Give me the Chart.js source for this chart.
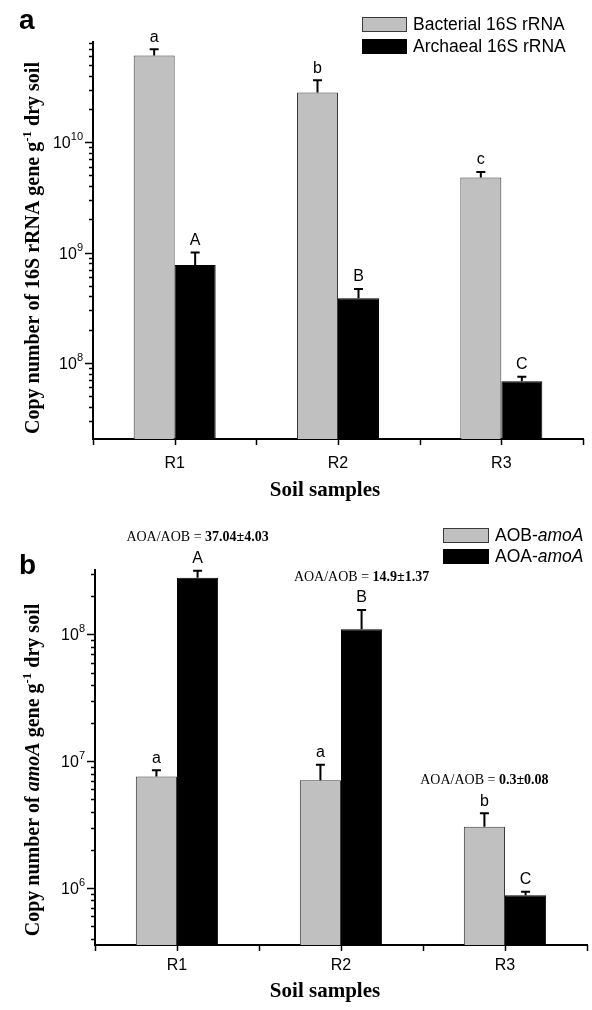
<!DOCTYPE html>
<html>
<head>
<meta charset="utf-8">
<script src="https://cdn.jsdelivr.net/npm/chart.js@4.4.0/dist/chart.umd.min.js"></script>
<style>
  html, body { margin: 0; padding: 0; background: #fff; }
  .panel { position: absolute; left: 0; width: 592px; height: 505px; }
  #wrapA { top: 0; }
  #wrapB { top: 505px; }
</style>
</head>
<body>
<div class="panel" id="wrapA"><canvas id="chartA" width="592" height="505"></canvas></div>
<div class="panel" id="wrapB"><canvas id="chartB" width="592" height="505"></canvas></div>
<script>
// soil samples
const samples = ['R1', 'R2', 'R3'];

// panel a: 16S rRNA gene copies per g dry soil
const bacterial = [6.1e10, 2.83e10, 4.78e9];
const bacterialSd = [0.87e10, 0.81e10, 0.59e9];
const bacterialLetters = ['a', 'b', 'c'];
const archaeal = [7.7e8, 3.85e8, 6.8e7];
const archaealSd = [2.3e8, 0.82e8, 0.7e7];
const archaealLetters = ['A', 'B', 'C'];

// panel b: amoA gene copies per g dry soil
const aob = [7.6e6, 7.1e6, 3.04e6];
const aobSd = [0.9e6, 2.3e6, 0.86e6];
const aobLetters = ['a', 'a', 'b'];
const aoa = [2.8e8, 1.1e8, 8.8e5];
const aoaSd = [0.38e8, 0.46e8, 0.55e5];
const aoaLetters = ['A', 'B', 'C'];
const ratioText = ['37.04\u00b14.03', '14.9\u00b11.37', '0.3\u00b10.08'];

const SANS = 'Liberation Sans, Arial, sans-serif';
const SERIF = 'Liberation Serif, Times New Roman, serif';
const GREY = '#c0c0c0';

// draw a list of text pieces {text, font, rise} one after another
function drawRich(ctx, parts, x, y, align) {
  let total = 0;
  parts.forEach(p => { ctx.font = p.font; p.w = ctx.measureText(p.text).width; total += p.w; });
  let cx = align === 'center' ? x - total / 2 : (align === 'right' ? x - total : x);
  ctx.textAlign = 'left';
  parts.forEach(p => {
    ctx.font = p.font;
    ctx.fillText(p.text, cx, y - (p.rise || 0));
    cx += p.w;
  });
}

const figureBits = {
  id: 'figureBits',
  afterDraw(chart, args, o) {
    const ctx = chart.ctx;
    const ys = chart.scales.y;
    const area = chart.chartArea;
    ctx.save();
    ctx.fillStyle = '#000';
    ctx.strokeStyle = '#000';

    // y axis ticks (log decades) and labels
    ctx.lineWidth = 1.5;
    const lo = Math.floor(Math.log10(ys.min)), hi = Math.ceil(Math.log10(ys.max));
    for (let e = lo; e <= hi; e++) {
      for (let k = 1; k <= 9; k++) {
        const v = k * Math.pow(10, e);
        if (v < ys.min || v > ys.max) continue;
        const py = Math.round(ys.getPixelForValue(v)) + 0.5;
        const len = k === 1 ? 8 : 4;
        ctx.beginPath();
        ctx.moveTo(area.left - len, py);
        ctx.lineTo(area.left, py);
        ctx.stroke();
        if (k === 1) {
          ctx.textBaseline = 'middle';
          drawRich(ctx, [
            { text: '10', font: '16px ' + SANS },
            { text: String(e), font: '11px ' + SANS, rise: 7 }
          ], area.left - 10, py + 1, 'right');
        }
      }
    }

    // x axis ticks at centres and between categories
    const step = (area.right - area.left) / (samples.length * 2);
    for (let i = 0; i <= samples.length * 2; i++) {
      const px = Math.round(area.left + i * step) + 0.5;
      ctx.beginPath();
      ctx.moveTo(px, area.bottom);
      ctx.lineTo(px, area.bottom + 6);
      ctx.stroke();
    }

    // error bars and letters
    const tops = samples.map(() => []);
    chart.data.datasets.forEach((ds, di) => {
      const meta = chart.getDatasetMeta(di);
      meta.data.forEach((bar, j) => {
        const yTop = ys.getPixelForValue(ds.data[j] + ds.sd[j]);
        tops[j].push({ x: bar.x, y: yTop });
        ctx.lineWidth = 2;
        ctx.beginPath();
        ctx.moveTo(bar.x, bar.y);
        ctx.lineTo(bar.x, yTop);
        ctx.moveTo(bar.x - 4.5, yTop);
        ctx.lineTo(bar.x + 4.5, yTop);
        ctx.stroke();
        ctx.font = '16px ' + SANS;
        ctx.textAlign = 'center';
        ctx.textBaseline = 'middle';
        ctx.fillText(ds.letters[j], bar.x, yTop - 12);
      });
    });

    // AOA/AOB ratio notes
    if (o.ratios) {
      ctx.textBaseline = 'middle';
      o.ratios.forEach((r, j) => {
        const t = tops[j].reduce((a, b) => (b.y < a.y ? b : a));
        drawRich(ctx, [
          { text: 'AOA/AOB = ', font: '14px ' + SERIF },
          { text: r, font: 'bold 14px ' + SERIF }
        ], t.x, t.y - 33, 'center');
      });
    }

    // legend
    const lg = o.legend;
    chart.data.datasets.forEach((ds, di) => {
      const by = lg.y + di * lg.gap;
      ctx.fillStyle = ds.backgroundColor;
      ctx.fillRect(lg.x, by, lg.w, lg.h);
      ctx.lineWidth = 1;
      ctx.strokeStyle = ds.borderColor;
      ctx.strokeRect(lg.x + 0.5, by + 0.5, lg.w - 1, lg.h - 1);
      ctx.fillStyle = '#000';
      ctx.textBaseline = 'middle';
      drawRich(ctx, ds.legendParts, lg.x + lg.w + 6, by + lg.h / 2 + 1, 'left');
    });

    // axis titles
    ctx.fillStyle = '#000';
    ctx.textBaseline = 'alphabetic';
    drawRich(ctx, [{ text: 'Soil samples', font: 'bold 21px ' + SERIF }], o.xTitle.x, o.xTitle.y, 'center');
    ctx.save();
    ctx.translate(o.yTitle.x, o.yTitle.y);
    ctx.rotate(-Math.PI / 2);
    drawRich(ctx, o.yTitle.parts, 0, 0, 'center');
    ctx.restore();

    // panel letter
    ctx.font = 'bold 28px ' + SANS;
    ctx.textAlign = 'left';
    ctx.fillText(o.panel.text, o.panel.x, o.panel.y);
    ctx.restore();
  }
};

function makeChart(id, datasets, yMin, yMax, lay, bits) {
  return new Chart(document.getElementById(id), {
    type: 'bar',
    data: { labels: samples, datasets: datasets },
    options: {
      responsive: false,
      animation: false,
      layout: { padding: { top: lay.top, right: lay.right, left: 0, bottom: 0 } },
      datasets: { bar: { barPercentage: 1, categoryPercentage: 0.502 } },
      plugins: {
        legend: { display: false },
        tooltip: { enabled: false },
        figureBits: bits
      },
      scales: {
        x: {
          grid: { display: false, drawTicks: false },
          border: { display: true, color: '#000', width: 2 },
          ticks: { color: '#000', font: { family: SANS, size: 16 }, padding: lay.labelPad },
          afterFit: s => { s.height = lay.xh; }
        },
        y: {
          type: 'logarithmic',
          min: yMin,
          max: yMax,
          grid: { display: false, drawTicks: false },
          border: { display: true, color: '#000', width: 2 },
          ticks: { display: false },
          afterFit: s => { s.width = lay.yw; }
        }
      }
    },
    plugins: [figureBits]
  });
}

const tBold = 'bold 20px ' + SERIF;
const tSup = 'bold 13px ' + SERIF;
const legFont = '17.5px ' + SANS;

makeChart('chartA', [
  { label: 'Bacterial 16S rRNA', data: bacterial, sd: bacterialSd, letters: bacterialLetters,
    backgroundColor: GREY, borderColor: '#3a3a3a', borderWidth: 1,
    legendParts: [{ text: 'Bacterial 16S rRNA', font: legFont }] },
  { label: 'Archaeal 16S rRNA', data: archaeal, sd: archaealSd, letters: archaealLetters,
    backgroundColor: '#000', borderColor: '#000', borderWidth: 1,
    legendParts: [{ text: 'Archaeal 16S rRNA', font: legFont }] }
], 2.04e7, 8.1e10,
{ top: 42, right: 9, xh: 66, yw: 93, labelPad: 15 },
{
  panel: { text: 'a', x: 19, y: 29 },
  legend: { x: 362, y: 17, w: 45, h: 15, gap: 22 },
  xTitle: { x: 325, y: 496 },
  yTitle: { x: 39, y: 248, parts: [
    { text: 'Copy number of 16S rRNA gene g', font: tBold },
    { text: '-1', font: tSup, rise: 8 },
    { text: ' dry soil', font: tBold }
  ] }
});

makeChart('chartB', [
  { label: 'AOB-amoA', data: aob, sd: aobSd, letters: aobLetters,
    backgroundColor: GREY, borderColor: '#3a3a3a', borderWidth: 1,
    legendParts: [{ text: 'AOB-', font: legFont }, { text: 'amoA', font: 'italic ' + legFont }] },
  { label: 'AOA-amoA', data: aoa, sd: aoaSd, letters: aoaLetters,
    backgroundColor: '#000', borderColor: '#000', borderWidth: 1,
    legendParts: [{ text: 'AOA-', font: legFont }, { text: 'amoA', font: 'italic ' + legFont }] }
], 3.56e5, 3.22e8,
{ top: 65, right: 5, xh: 65, yw: 95, labelPad: 11 },
{
  panel: { text: 'b', x: 19, y: 69 },
  ratios: ratioText,
  legend: { x: 443, y: 23, w: 46, h: 15, gap: 21 },
  xTitle: { x: 325, y: 492 },
  yTitle: { x: 39, y: 265, parts: [
    { text: 'Copy number of ', font: tBold },
    { text: 'amoA', font: 'italic ' + tBold },
    { text: ' gene g', font: tBold },
    { text: '-1', font: tSup, rise: 8 },
    { text: ' dry soil', font: tBold }
  ] }
});
</script>
</body>
</html>
